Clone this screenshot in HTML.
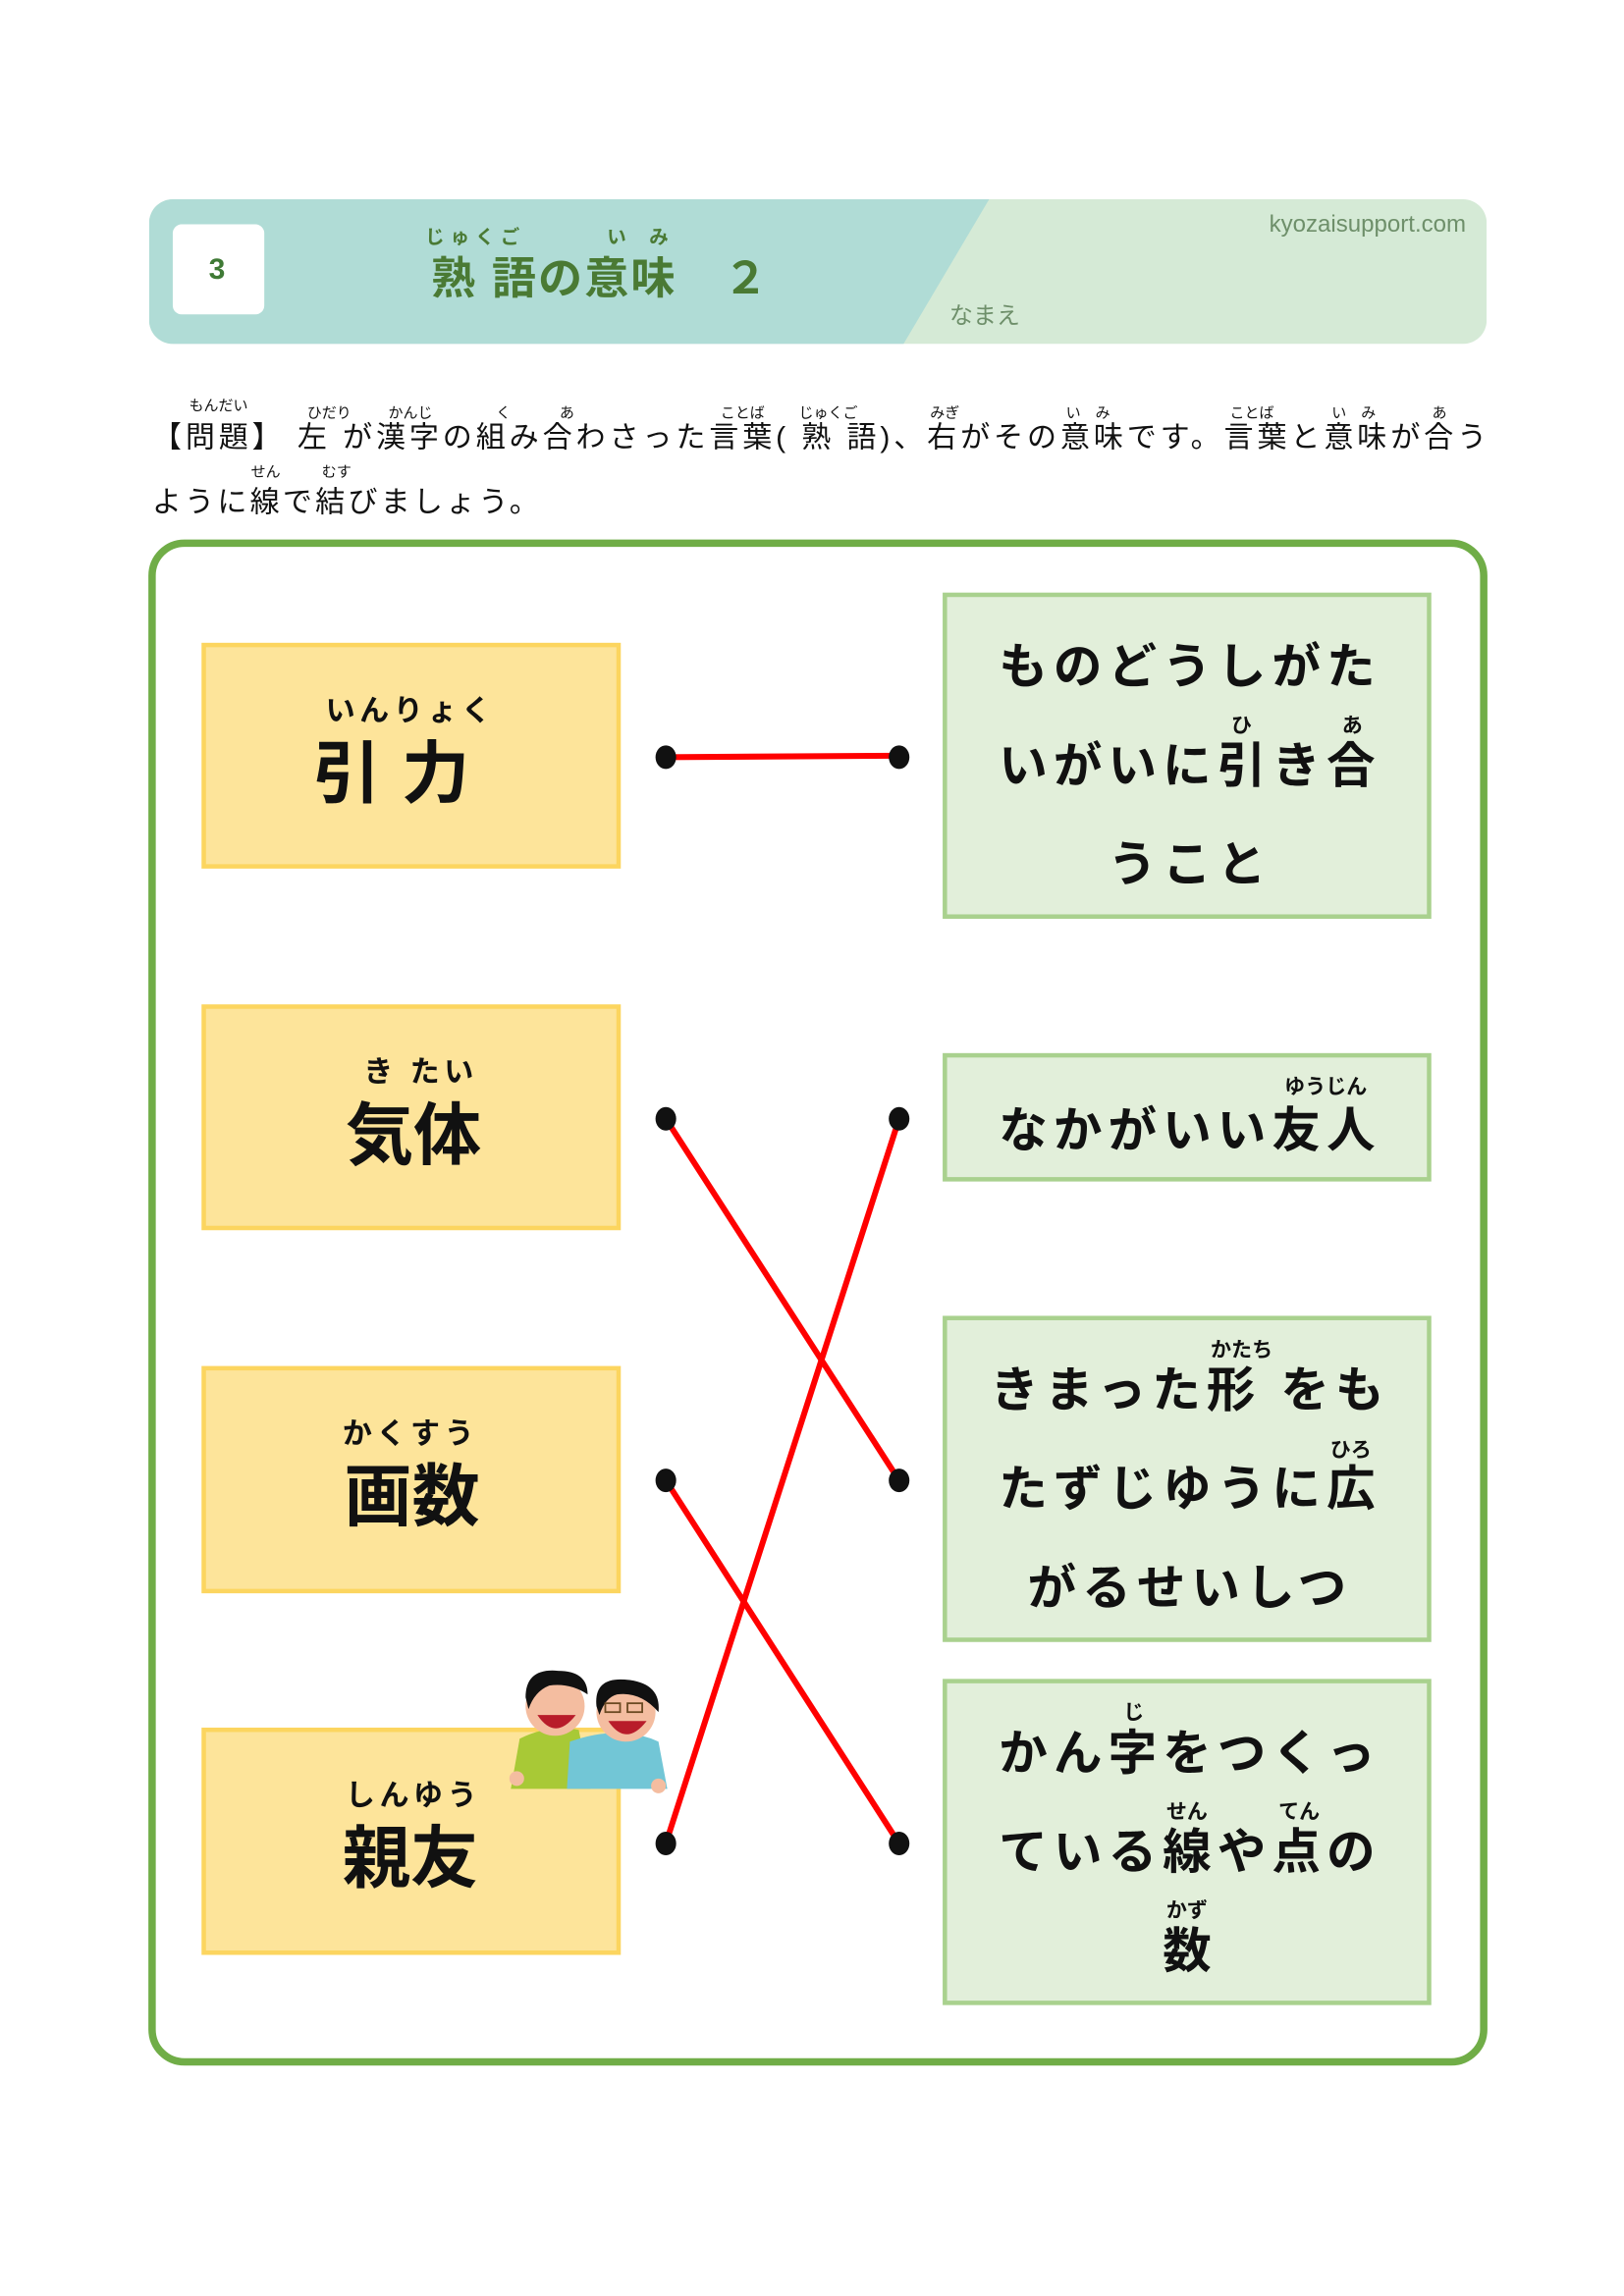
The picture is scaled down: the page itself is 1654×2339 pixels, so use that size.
<!DOCTYPE html>
<html><head><meta charset="utf-8"><style>
html,body{margin:0;padding:0;background:#fff;}
svg{display:block;}
text{font-family:"Liberation Sans","Noto Sans CJK JP",sans-serif;}
.b{font-weight:bold;}
</style></head><body>
<svg width="1654" height="2339" viewBox="0 0 1100 1555.6" xmlns="http://www.w3.org/2000/svg">
<defs><clipPath id="hc"><rect x="101" y="135" width="906" height="98" rx="16"/></clipPath></defs>
<g clip-path="url(#hc)">
<rect x="101" y="135" width="906" height="98" fill="#d5ead6"/>
<polygon points="101,135 670,135 612,233 101,233" fill="#b0dcd6"/>
</g>
<rect x="117" y="152" width="62" height="61" rx="6" fill="#fff"/>
<text x="147" y="189" font-size="20" fill="#3f7a35" text-anchor="middle" class="b">3</text>
<g fill="#4a7a34" class="b">
<text x="322" y="165" font-size="13" text-anchor="middle" letter-spacing="4">じゅくご</text>
<text x="435" y="165" font-size="13" text-anchor="middle" letter-spacing="6">い み</text>
<text x="292" y="199" font-size="30" textLength="228">熟 語の意味　２</text>
</g>
<text x="993" y="157" font-size="16" fill="#6e8f6a" text-anchor="end">kyozaisupport.com</text>
<text x="643" y="219" font-size="16" fill="#6e8f6a">なまえ</text>

<g fill="#111">
<g font-size="10">
<text x="128" y="278">もんだい</text><text x="208" y="283">ひだり</text><text x="263" y="283">かんじ</text><text x="336" y="283">く</text><text x="379" y="283">あ</text>
<text x="488" y="283">ことば</text><text x="541" y="283">じゅくご</text><text x="630" y="283">みぎ</text><text x="722" y="283">い　み</text>
<text x="833" y="283">ことば</text><text x="902" y="283">い　み</text><text x="970" y="283">あ</text>
<text x="170" y="323">せん</text><text x="218" y="323">むす</text>
</g>
<text x="103" y="303" font-size="20" textLength="904" lengthAdjust="spacing">【問題】 左 が漢字の組み合わさった言葉( 熟 語)、右がその意味です。言葉と意味が合う</text>
<text x="103" y="347" font-size="20" textLength="262" lengthAdjust="spacing">ように線で結びましょう。</text>
</g>

<rect x="103" y="368" width="902" height="1029" rx="22" fill="#fff" stroke="#70ad47" stroke-width="5"/>

<g fill="#fde49a" stroke="#fcd55f" stroke-width="3">
<rect x="138" y="437" width="281" height="150"/>
<rect x="138" y="682" width="281" height="150"/>
<rect x="138" y="927" width="281" height="151"/>
<rect x="138" y="1172" width="281" height="151"/>
</g>
<g fill="#e2efda" stroke="#a9d18e" stroke-width="3">
<rect x="640" y="403" width="328" height="218"/>
<rect x="640" y="715" width="328" height="84"/>
<rect x="640" y="893" width="328" height="218"/>
<rect x="640" y="1139" width="328" height="218"/>
</g>

<g fill="#111" class="b" text-anchor="middle">
<text x="278" y="488" font-size="20" letter-spacing="3">いんりょく</text>
<text x="272" y="540" font-size="46" letter-spacing="14">引力</text>
<text x="285" y="733" font-size="20" letter-spacing="3">き たい</text>
<text x="280" y="785" font-size="46">気体</text>
<text x="278" y="978" font-size="20" letter-spacing="3">かくすう</text>
<text x="279" y="1030" font-size="46">画数</text>
<text x="280" y="1223" font-size="20" letter-spacing="3">しんゆう</text>
<text x="278" y="1275" font-size="46">親友</text>

<g font-size="33" letter-spacing="4">
<text x="806" y="463">ものどうしがた</text>
<text x="806" y="530">いがいに引き合</text>
<text x="806" y="597">うこと</text>
<text x="806" y="777">なかがいい友人</text>
<text x="806" y="953">きまった形 をも</text>
<text x="806" y="1020">たずじゆうに広</text>
<text x="806" y="1087">がるせいしつ</text>
<text x="806" y="1199">かん字をつくっ</text>
<text x="806" y="1266">ている線や点の</text>
<text x="806" y="1333">数</text>
</g>
<g font-size="14">
<text x="841" y="496">ひ</text><text x="916" y="496">あ</text>
<text x="898" y="741">ゆうじん</text>
<text x="841" y="919">かたち</text><text x="915" y="987">ひろ</text>
<text x="768" y="1165">じ</text><text x="804" y="1232">せん</text><text x="880" y="1232">てん</text><text x="804" y="1299">かず</text>
</g>
</g>

<g>
<path d="M346 1212 L352 1178 Q372 1168 392 1172 L400 1212Z" fill="#a8c936"/>
<path d="M384 1212 L386 1180 Q420 1168 446 1180 L452 1212Z" fill="#72c6d6"/>
<circle cx="350" cy="1205" r="5" fill="#f4bda0"/>
<circle cx="446" cy="1210" r="5" fill="#f4bda0"/>
<circle cx="376" cy="1156" r="20" fill="#f4bda0"/>
<path d="M356 1150 Q356 1130 378 1132 Q398 1132 398 1148 Q386 1140 372 1142 Q362 1146 358 1158Z" fill="#111"/>
<path d="M364 1162 Q376 1180 390 1162Z" fill="#b81c2a"/>
<circle cx="424" cy="1160" r="20" fill="#f4bda0"/>
<path d="M404 1156 Q402 1136 424 1138 Q448 1140 446 1160 Q434 1146 418 1148 Q410 1150 406 1162Z" fill="#111"/>
<path d="M412 1166 Q424 1184 438 1166Z" fill="#b81c2a"/>
<rect x="410" y="1154" width="10" height="6" fill="none" stroke="#6b4a22" stroke-width="1.2"/>
<rect x="425" y="1154" width="10" height="6" fill="none" stroke="#6b4a22" stroke-width="1.2"/>
</g>

<g stroke="#ff0000" stroke-width="4" stroke-linecap="round">
<line x1="451" y1="513" x2="609" y2="512"/>
<line x1="451" y1="758" x2="609" y2="1003"/>
<line x1="451" y1="1003" x2="609" y2="1249"/>
<line x1="451" y1="1249" x2="609" y2="758"/>
</g>
<g fill="#111">
<ellipse cx="451" cy="513" rx="7" ry="8"/><ellipse cx="609" cy="513" rx="7" ry="8"/>
<ellipse cx="451" cy="758" rx="7" ry="8"/><ellipse cx="609" cy="758" rx="7" ry="8"/>
<ellipse cx="451" cy="1003" rx="7" ry="8"/><ellipse cx="609" cy="1003" rx="7" ry="8"/>
<ellipse cx="451" cy="1249" rx="7" ry="8"/><ellipse cx="609" cy="1249" rx="7" ry="8"/>
</g>
</svg>
</body></html>
